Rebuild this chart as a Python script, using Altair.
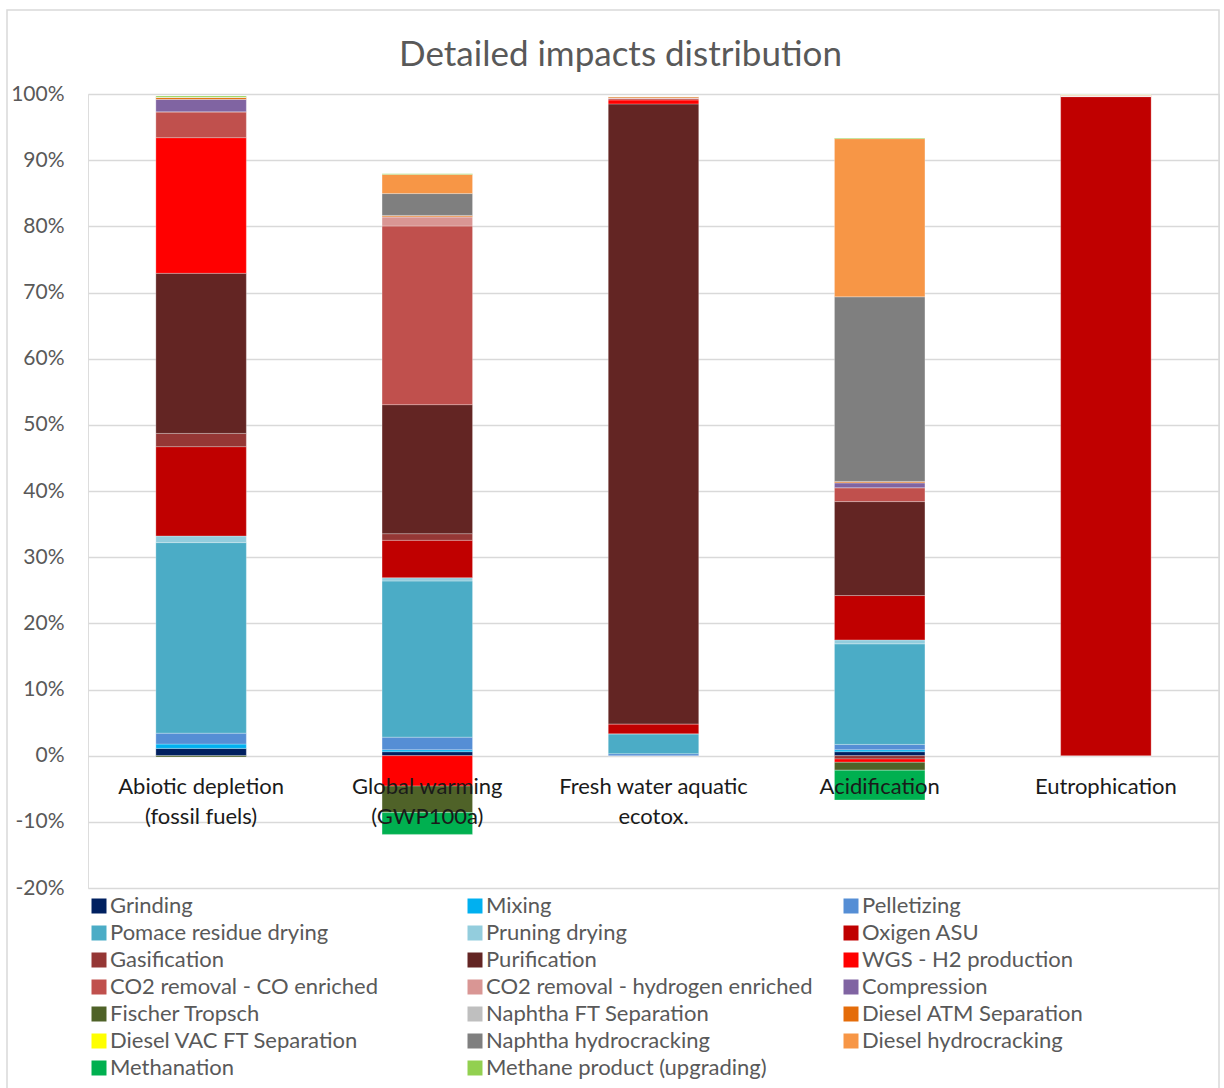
import altair as alt
import pandas as pd

FONT = "Lato"

categories = [
    "Abiotic depletion (fossil fuels)",
    "Global warming (GWP100a)",
    "Fresh water aquatic ecotox.",
    "Acidification",
    "Eutrophication",
]
category_labels = [
    "Abiotic depletion\n(fossil fuels)",
    "Global warming\n(GWP100a)",
    "Fresh water aquatic\necotox.",
    "Acidification",
    "Eutrophication",
]

series = [
    "Grinding", "Mixing", "Pelletizing",
    "Pomace residue drying", "Pruning drying", "Oxigen ASU",
    "Gasification", "Purification", "WGS - H2 production",
    "CO2 removal - CO enriched", "CO2 removal - hydrogen enriched", "Compression",
    "Fischer Tropsch", "Naphtha FT Separation", "Diesel ATM Separation",
    "Diesel VAC FT Separation", "Naphtha hydrocracking", "Diesel hydrocracking",
    "Methanation", "Methane product (upgrading)",
]

colors = [
    "#002060", "#00B0F0", "#558ED5",
    "#4BACC6", "#93CDDD", "#C00000",
    "#953735", "#632523", "#FF0000",
    "#C0504D", "#D99694", "#8064A2",
    "#4F6228", "#BFBFBF", "#E46C0A",
    "#FFFF00", "#7F7F7F", "#F79646",
    "#00B050", "#92D050",
]

# share of each process in each impact category (%), one list per process
values = {
    "Grinding":                        [1.1, 0.6, 0.0, 0.6, 0.0],
    "Mixing":                          [0.65, 0.3, 0.0, 0.3, 0.0],
    "Pelletizing":                     [1.65, 1.9, 0.3, 0.8, 0.0],
    "Pomace residue drying":           [28.8, 23.6, 3.0, 15.2, 0.0],
    "Pruning drying":                  [1.0, 0.5, 0.0, 0.6, 0.0],
    "Oxigen ASU":                      [13.5, 5.65, 1.5, 6.7, 99.6],
    "Gasification":                    [2.0, 1.0, 0.0, -0.5, 0.1],
    "Purification":                    [24.2, 19.5, 93.7, 14.2, 0.0],
    "WGS - H2 production":             [20.5, -4.6, 0.6, -0.5, 0.0],
    "CO2 removal - CO enriched":       [3.9, 27.0, 0.3, 2.1, 0.0],
    "CO2 removal - hydrogen enriched": [0.0, 1.4, 0.0, 0.0, 0.0],
    "Compression":                     [1.9, 0.0, 0.0, 0.75, 0.0],
    "Fischer Tropsch":                 [-0.2, -4.0, 0.0, -1.2, 0.0],
    "Naphtha FT Separation":           [0.0, 0.0, 0.0, 0.0, 0.0],
    "Diesel ATM Separation":           [0.3, 0.2, 0.2, 0.2, 0.15],
    "Diesel VAC FT Separation":        [0.0, 0.0, 0.0, 0.0, 0.0],
    "Naphtha hydrocracking":           [0.0, 3.3, 0.0, 27.9, 0.0],
    "Diesel hydrocracking":            [0.0, 2.9, 0.0, 23.9, 0.0],
    "Methanation":                     [0.0, -3.3, 0.0, -4.5, 0.0],
    "Methane product (upgrading)":     [0.2, 0.1, 0.0, 0.1, 0.05],
}

y_ticks = list(range(-20, 101, 10))

rows = []
for i, s in enumerate(series):
    for c, v in zip(categories, values[s]):
        rows.append({"category": c, "series": s, "idx": i, "value": v})
df = pd.DataFrame(rows)

labels_df = pd.DataFrame({"category": categories, "label": category_labels})

# the legend fills its grid column by column; reorder entries so that
# the series read left-to-right, row by row
N_COLS = 3
legend_order = [series[i] for c in range(N_COLS) for i in range(c, len(series), N_COLS)]
legend_colors = [colors[series.index(s)] for s in legend_order]

x_scale = alt.Scale(domain=categories, paddingInner=0.6, paddingOuter=0.3)
y_scale = alt.Scale(domain=[-20, 100], nice=False, zero=False)

# outer chart frame
frame = alt.Chart(pd.DataFrame({"k": [0]})).mark_rect(
    fillOpacity=0, stroke="#D9D9D9", strokeWidth=1.5
).encode(
    x=alt.value(-81), x2=alt.value(1131), y=alt.value(-84), y2=alt.value(1010)
)

bars = alt.Chart(df).mark_bar(
    stroke="white", strokeWidth=0.6, strokeOpacity=0.45
).encode(
    x=alt.X("category:N", scale=x_scale, axis=None),
    y=alt.Y(
        "value:Q",
        stack="zero",
        scale=y_scale,
        axis=alt.Axis(
            values=y_ticks,
            labelExpr="datum.value + '%'",
            grid=True,
            gridColor="#D9D9D9",
            gridWidth=1.5,
            domain=False,
            ticks=False,
            labelFont=FONT,
            labelFontSize=21,
            labelColor="#595959",
            labelPadding=24,
            title=None,
        ),
    ),
    color=alt.Color(
        "series:N",
        scale=alt.Scale(domain=legend_order, range=legend_colors),
        legend=alt.Legend(
            title=None,
            orient="none",
            legendX=0,
            legendY=801,
            columns=N_COLS,
            gridAlign="all",
            columnPadding=27,
            rowPadding=5,
            symbolType="square",
            symbolSize=225,
            symbolStrokeWidth=0,
            labelFont=FONT,
            labelFontSize=22,
            labelColor="#595959",
            labelOffset=0,
            labelLimit=500,
            padding=0,
        ),
    ),
    order=alt.Order("idx:Q", sort="ascending"),
)

cat_text = alt.Chart(labels_df).mark_text(
    font=FONT, fontSize=22, color="#1A1A1A", baseline="top", dy=21,
    lineBreak="\n", lineHeight=30, align="center"
).encode(
    x=alt.X("category:N", scale=x_scale, axis=None),
    y=alt.YDatum(0),
    text="label:N",
)

chart = alt.layer(frame, bars, cat_text).properties(
    width=1131,
    height=794,
    padding={"left": 88, "top": 94, "right": 5, "bottom": 200},
    autosize=alt.AutoSizeParams(type="none"),
    title=alt.TitleParams(
        "Detailed impacts distribution",
        font=FONT,
        fontSize=35,
        fontWeight="normal",
        color="#595959",
        anchor="middle",
        dx=-33,
        offset=-64,
    ),
).configure_view(stroke=None).configure(background="white")

chart.save("out.html", embed_options={"renderer": "svg", "actions": False})
